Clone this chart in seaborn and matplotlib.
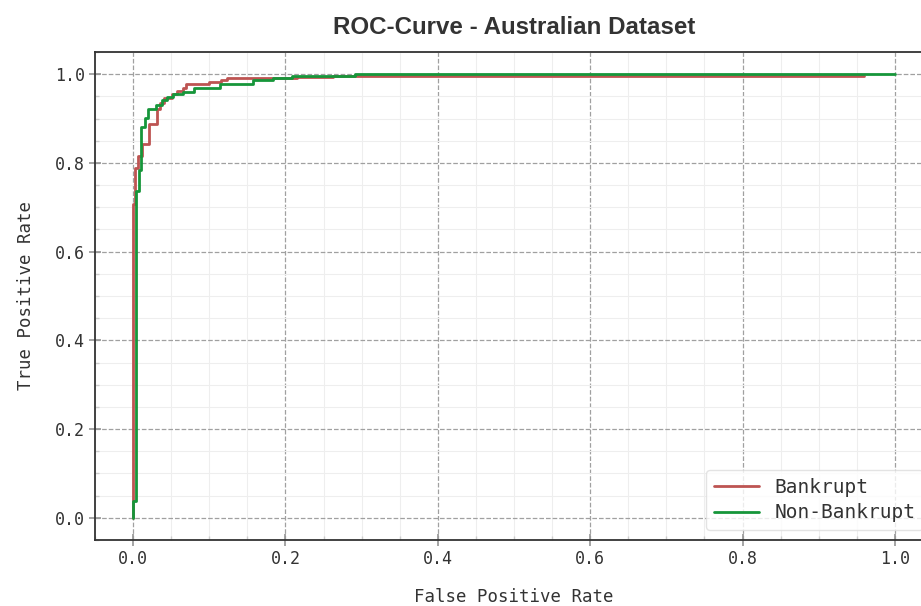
import seaborn as sns
from matplotlib import pyplot as plt
from matplotlib.ticker import MultipleLocator
import pandas as pd

# ROC points (step corners)
fpr_bankrupt = [0.0, 0.0, 0.003, 0.003, 0.007, 0.007, 0.012, 0.012, 0.021, 0.021,
                0.031, 0.031, 0.035, 0.035, 0.041, 0.041, 0.051, 0.051, 0.057, 0.057,
                0.066, 0.066, 0.070, 0.070, 0.099, 0.099, 0.116, 0.116, 0.123, 0.123,
                0.215, 0.215, 0.262, 0.262, 0.96]
tpr_bankrupt = [0.0, 0.707, 0.707, 0.789, 0.789, 0.816, 0.816, 0.842, 0.842, 0.887,
                0.887, 0.921, 0.921, 0.934, 0.934, 0.946, 0.946, 0.955, 0.955, 0.961,
                0.961, 0.968, 0.968, 0.977, 0.977, 0.982, 0.982, 0.987, 0.987, 0.991,
                0.991, 0.993, 0.993, 0.997, 0.997]

fpr_non_bankrupt = [0.0, 0.0, 0.004, 0.004, 0.008, 0.008, 0.0105, 0.0105, 0.016, 0.016,
                    0.019, 0.019, 0.030, 0.030, 0.038, 0.038, 0.045, 0.045, 0.052, 0.052,
                    0.065, 0.065, 0.080, 0.080, 0.114, 0.114, 0.157, 0.157, 0.183, 0.183,
                    0.209, 0.209, 0.291, 0.291, 1.0]
tpr_non_bankrupt = [0.0, 0.039, 0.039, 0.737, 0.737, 0.784, 0.784, 0.880, 0.880, 0.902,
                    0.902, 0.922, 0.922, 0.931, 0.931, 0.942, 0.942, 0.949, 0.949, 0.955,
                    0.955, 0.959, 0.959, 0.968, 0.968, 0.977, 0.977, 0.986, 0.986, 0.991,
                    0.991, 0.995, 0.995, 1.0, 1.0]

classes = ['Bankrupt', 'Non-Bankrupt']
colors = ['#bd5452', '#16963a']

df = pd.concat([
    pd.DataFrame({'fpr': fpr_bankrupt, 'tpr': tpr_bankrupt, 'cls': classes[0]}),
    pd.DataFrame({'fpr': fpr_non_bankrupt, 'tpr': tpr_non_bankrupt, 'cls': classes[1]}),
], ignore_index=True)

sns.set_theme(style='white')
plt.rcParams['font.family'] = ['DejaVu Sans Mono']

fig = plt.figure(figsize=(9.21, 6.06), dpi=100)
ax = fig.add_axes([95 / 921, 66 / 606, 838 / 921, 488 / 606])

sns.lineplot(data=df, x='fpr', y='tpr', hue='cls', hue_order=classes,
             palette=colors, estimator=None, sort=False, linewidth=2, ax=ax)

ax.set_xlim(-0.05, 1.05)
ax.set_ylim(-0.05, 1.05)
ax.xaxis.set_major_locator(MultipleLocator(0.2))
ax.yaxis.set_major_locator(MultipleLocator(0.2))
ax.xaxis.set_minor_locator(MultipleLocator(0.05))
ax.yaxis.set_minor_locator(MultipleLocator(0.05))

ax.grid(which='major', color='#a0a0a0', linestyle='--', linewidth=0.9)
ax.grid(which='minor', color='#eeeeee', linestyle='-', linewidth=0.8)
ax.set_axisbelow(True)

for s in ax.spines.values():
    s.set_color('#333333')
    s.set_linewidth(1.3)

ax.tick_params(which='major', direction='inout', length=8, color='#999999',
               labelsize=12, labelcolor='#333333', bottom=True, left=True)
ax.tick_params(which='minor', direction='in', length=3, color='#cccccc',
               bottom=True, left=True)

ax.set_xlabel('False Positive Rate', fontsize=12.5, color='#333333', labelpad=14)
ax.set_ylabel('True Positive Rate', fontsize=12.5, color='#333333', labelpad=14)
ax.set_title('ROC-Curve - Australian Dataset', fontsize=17.4, fontweight='bold',
             family='Liberation Sans', color='#333333', pad=13)

leg = ax.legend(loc='lower right', fontsize=14, frameon=True, title=None,
                handlelength=2.3, borderaxespad=0.5, labelspacing=0.35)
leg.get_frame().set_edgecolor('#dddddd')
for t in leg.get_texts():
    t.set_color('#333333')

plt.savefig('out.png', dpi=100)
